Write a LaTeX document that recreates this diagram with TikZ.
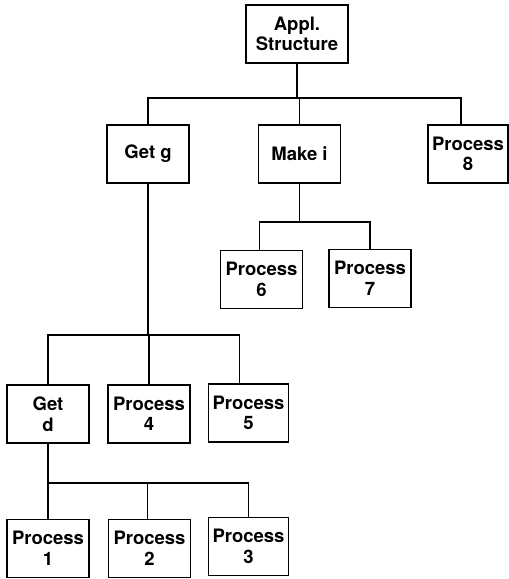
\documentclass[tikz,border=0pt]{standalone}
\usepackage{fontspec}
\setmainfont{TeX Gyre Heros}
\usetikzlibrary{positioning}

\begin{document}
\begin{tikzpicture}[
    x=1pt, y=1pt,
    every node/.style={font=\fontsize{18.5}{20.5}\selectfont\bfseries},
    module/.style={
        draw=black,
        line width=1.7pt,
        align=center,
        inner sep=0pt,
        minimum width=82pt,
        minimum height=58pt
    },
    branch/.style={
        draw=black,
        line width=1.7pt
    }
]

\useasboundingbox (0,0) rectangle (509,579);

% ============================================================
% TOP LEVEL
% ============================================================

\node[
    module,
    minimum width=102pt
] (appl) at (297,545)
{Appl.\\Structure};

\node[module] (getg) at (148,425) {Get g};
\node[module] (makei) at (299.5,425) {Make i};
\node[
    module,
    minimum width=80pt
] (proc8) at (468,425)
{Process\\8};

\draw[branch] (appl.south) -- ++(0,-34) coordinate (j1)
    -| (getg.north);
\draw[branch] (j1) -| (makei.north);
\draw[branch] (j1) -| ([xshift=-7pt]proc8.north);

% ============================================================
% MAKE I
% ============================================================

\node[module] (proc6) at (261.5,299.5) {Process\\6};
\node[module] (proc7) at (370,300.5) {Process\\7};

\draw[branch] (makei.south) -- ++(0,-38) coordinate (j2)
    -| ([xshift=-2pt]proc6.north);
\draw[branch] (j2) -| (proc7.north);

% ============================================================
% GET G
% ============================================================

\node[module] (getd) at (48,165) {Get\\d};
\node[module] (proc4) at (149,165) {Process\\4};
\node[
    module,
    minimum width=80pt
] (proc5) at (248.5,166)
{Process\\5};

\draw[branch] (getg.south) -- (getg.south |- 0,244) coordinate (j3)
    -| (getd.north);
\draw[branch] (j3) -| (proc4.north);
\draw[branch] (j3) -| ([xshift=-9pt]proc5.north);

% ============================================================
% GET D
% ============================================================

\node[module] (proc1) at (48,30.5) {Process\\1};
\node[module] (proc2) at (149.5,30.5) {Process\\2};
\node[
    module,
    minimum width=80pt
] (proc3) at (248.5,32.5)
{Process\\3};

\draw[branch] (getd.south) -- ++(0,-39) coordinate (j4)
    -| (proc1.north);
\draw[branch] (j4) -| ([xshift=-2pt]proc2.north);
\draw[branch] (j4) -| (proc3.north);

\end{tikzpicture}
\end{document}
